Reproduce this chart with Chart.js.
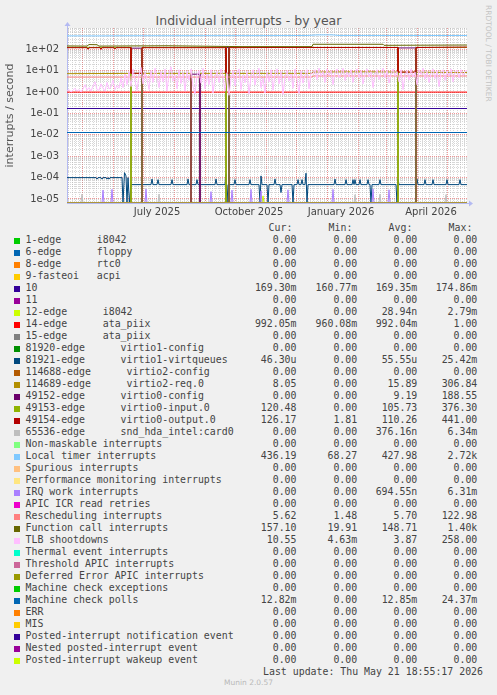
<!DOCTYPE html>
<html lang="en">
<head>
  <meta charset="UTF-8">
  <title>Individual interrupts - by year</title>
  <style>
    body { margin: 0; background: #f0f0f0; }
    #wrap { position: relative; width: 497px; height: 695px; overflow: hidden; font-family: 'DejaVu Sans', sans-serif; }
    #chart { position: absolute; left: 0; top: 0; }
    .title { position: absolute; left: 0; top: 13px; width: 497px; text-align: center; font-size: 12.5px; line-height: 15px; color: #555; }
    .brand { position: absolute; left: 484px; top: 5px; writing-mode: vertical-rl; font-size: 7.5px; line-height: 8px; color: #c4c4c4; white-space: nowrap; }
    .mono { position: absolute; font-family: 'DejaVu Sans Mono', monospace; font-size: 9.9px; line-height: 12px; color: #444; white-space: pre; }
    .num { width: 90px; text-align: right; }
    .swatch { position: absolute; left: 14px; width: 6px; height: 6px; }
    .munin { position: absolute; left: 0; top: 678px; width: 497px; text-align: center; font-size: 7.5px; line-height: 9px; color: #b8b8b8; }
  </style>
  <script src="https://cdn.jsdelivr.net/npm/chart.js"></script>
</head>
<body>
<div id="wrap">
  <div class="title">Individual interrupts - by year</div>
  <div class="brand">RRDTOOL / TOBI OETIKER</div>
  <canvas id="chart" width="497" height="222"></canvas>
  <div id="legend"></div>
  <div class="munin">Munin 2.0.57</div>
</div>
<script>
// x values are days since 2025-04-16 (left edge of the year graph)
const startDate = '2025-04-16';
const monthStartDates = ['2025-05-01', '2025-06-01', '2025-07-01', '2025-08-01', '2025-09-01', '2025-10-01',
  '2025-11-01', '2025-12-01', '2026-01-01', '2026-02-01', '2026-03-01', '2026-04-01', '2026-05-01'];
const tickLabels = ['July 2025', 'October 2025', 'January 2026', 'April 2026'];
const tickLabelDates = ['2025-07-15', '2025-10-15', '2026-01-15', '2026-04-15'];

// series, [day, interrupts per second]
const zeroLine = [[0, 0], [400, 0]];
const irq10 = [[0, 0.169], [400, 0.169]];
const ataPiix14 = [[0, 0.992], [400, 0.992]];
const mcePolls = [[0, 0.0128], [400, 0.0128]];
const edge12 = [[0, 0], [195, 0], [196, 1.4e-5], [197, 0], [400, 0]];
const sndHda = [[0, 0], [14, 0], [15, 1.7e-5], [16, 0], [91, 0], [92, 1.7e-5], [93, 0], [287, 0], [288, 1.6e-5], [289, 0],
  [312, 0], [313, 1.7e-5], [314, 0], [378, 0], [379, 1.6e-5], [380, 0], [400, 0]];
const irqWork = [[0, 0], [35, 0], [36, 2.6e-5], [37, 0], [44, 0], [45, 2.8e-5], [46, 0], [78, 0], [79, 2.9e-5], [80, 0],
  [143, 0], [144, 2.2e-5], [145, 0], [164, 0], [165, 2.6e-5], [166, 0], [183, 0], [184, 2.8e-5], [185, 0],
  [193, 0], [194, 2.4e-5], [195, 0], [220, 0], [221, 2.7e-5], [222, 0], [265, 0], [266, 2.8e-5], [267, 0],
  [305, 0], [306, 2.9e-5], [307, 0], [321, 0], [322, 2.7e-5], [323, 0], [400, 0]];
const virtio1Queues = [[0, 1e-4], [29, 1e-4], [30, 8.5e-5], [31, 1e-4], [34, 1e-4], [35, 8.5e-5], [36, 1e-4],
  [39, 1e-4], [40, 8.5e-5], [41, 1e-4], [42, 8.5e-5], [43, 1e-4], [55, 1e-4], [56, 0], [57.5, 1.7e-4],
  [59, 1.2e-4], [60, 0], [61, 1e-4], [62.5, 0], [64, 4.7e-5],
  [84, 4.7e-5], [85, 8.5e-5], [86, 4.7e-5], [90, 4.7e-5], [91, 8e-5], [92, 4.7e-5], [104, 4.7e-5], [105, 8e-5],
  [106, 4.7e-5], [120, 4.7e-5], [121, 8.5e-5], [122, 4.7e-5], [129, 4.7e-5], [130, 8e-5], [131, 4.7e-5],
  [148, 4.7e-5], [149, 8.5e-5], [150, 4.7e-5], [158, 4.7e-5], [159, 1.5e-4], [160, 0], [161, 4.7e-5],
  [167, 4.7e-5], [168, 8e-5], [169, 4.7e-5], [182, 4.7e-5], [183, 8e-5], [184, 4.7e-5], [192, 4.7e-5],
  [193, 0], [194, 1.2e-4], [195, 4.7e-5], [200, 4.7e-5], [201, 0], [202, 4.7e-5], [207, 4.7e-5], [208, 8.5e-5],
  [209, 4.7e-5], [213, 4.7e-5], [214, 2e-5], [215, 4.7e-5], [225, 4.7e-5], [226, 0], [227, 4.7e-5],
  [230, 4.7e-5], [231, 8e-5], [232, 4.7e-5], [234, 4.7e-5], [235, 8e-5], [236, 4.7e-5], [238, 4.7e-5],
  [239, 1.6e-4], [240, 0], [241, 4.7e-5], [267, 4.7e-5], [268, 8.5e-5], [269, 4.7e-5], [278, 4.7e-5],
  [279, 8e-5], [280, 4.7e-5], [285, 4.7e-5], [286, 8e-5], [287, 4.7e-5], [288, 8e-5], [289, 4.7e-5],
  [292, 4.7e-5], [293, 8e-5], [294, 4.7e-5], [300, 4.7e-5], [301, 8e-5], [302, 4.7e-5], [303, 4.7e-5],
  [304, 0], [305, 4.7e-5], [312, 4.7e-5], [313, 8e-5], [314, 4.7e-5], [329, 4.7e-5], [330, 0], [331, 8.5e-5],
  [332, 4.7e-5], [349, 4.7e-5], [350, 8.5e-5], [351, 4.7e-5], [357, 4.7e-5], [358, 8e-5], [359, 4.7e-5],
  [365, 4.7e-5], [366, 8e-5], [367, 4.7e-5], [379, 4.7e-5], [380, 8e-5], [381, 4.7e-5], [392, 4.7e-5],
  [393, 8e-5], [394, 4.7e-5], [400, 4.7e-5]];
const virtio2Req = [[0, 7.2], [60, 7.4], [124, 7.4], [124, 0], [133, 0], [133, 7.4], [245, 7.4], [246, 8.6],
  [300, 8.8], [400, 8.1]];
const virtio0Config = [[0, 0], [64, 0], [64, 112], [75, 112], [75, 0], [124, 0], [124, 6.8], [133, 6.8], [133, 0],
  [159, 0], [159, 120], [162, 120], [162, 0], [331, 0], [331, 115], [349, 115], [349, 0], [400, 0]];
const virtio0Input = [[0, 122], [64, 122], [64, 0], [75, 0], [75, 122], [159, 122], [159, 0], [162, 0],
  [162, 122], [331, 122], [331, 0], [349, 0], [349, 122], [400, 122]];
const virtio0Output = [[0, 118], [20, 118], [21, 100], [22, 118], [33, 118], [34, 98], [35, 118], [47, 118],
  [48, 102], [49, 118], [64, 118], [64, 7.5], [75, 7.5], [75, 118], [159, 118], [159, 7.5], [162, 7.5],
  [162, 118], [200, 120], [331, 120], [331, 8.5], [349, 8.5], [349, 120], [400, 126]];
const localTimer = [[0, 420], [30, 418], [60, 425], [120, 428], [160, 430], [200, 432], [240, 438],
  [250, 465], [265, 468], [272, 440], [330, 438], [400, 436]];
const rescheduling = [[0, 5.0], [245, 5.0], [246, 5.6], [400, 5.6]];
const functionCall = [[0, 142], [20, 140], [22, 165], [30, 162], [32, 140], [100, 145], [140, 138],
  [175, 132], [245, 132], [246, 170], [316, 170], [317, 152], [400, 157]];
const tlbStepDays = 2;
const tlbShootdowns = [
  1.1, 1.3, 1.0, 1.2, 1.5, 1.1, 1.3, 1.0, 1.4, 2.2, 1.2, 1.6, 1.1, 1.9, 3.0, 1.3, 1.2, 2.4, 1.5, 1.1,
  2.8, 1.4, 1.7, 3.6, 1.3, 2.0, 1.5,
  4.5, 1.6, 7, 2.2, 9, 1.8, 12, 3.5, 1.2, 6, 14, 2.4, 8, 4, 1.3, 10, 2.8, 13, 5, 1.6,
  9, 3, 12, 1.1, 7, 15, 3.2, 6, 1.4, 11, 2.5, 8,
  1.1, 9, 3.5, 12, 1.8, 0.8, 6, 10, 2.6, 13, 1.4, 7, 2.2, 11, 0.9, 5, 9, 2.8, 12, 5,
  1.1, 8, 0.7, 4, 10, 1.9, 8, 12, 1.3, 6, 2.7, 9, 0.8, 5.5, 11, 2.1, 7.5, 13, 1.6, 4.5,
  0.9, 8.5, 3, 11, 1.2, 6.5, 12, 2.4, 9, 0.75, 5, 10, 3.3, 7, 1.5, 12, 4, 0.85, 9.5, 2.6,
  6, 11, 1.4, 8,
  7, 11, 3.8, 13, 5.5, 9, 2.8, 12, 6, 10, 2.2, 8, 12, 4.5, 7, 13, 3.5, 9, 5, 11,
  2.8, 8, 12, 4.6, 10, 2.4, 7, 12, 5, 9, 1.6, 6.5, 11, 3.8, 8, 13, 4.5, 10, 2.6, 7,
  12, 5.5, 9, 3, 11, 1.3, 6, 10, 3.6, 12, 5, 8.5, 2.2, 11, 6.5, 13, 4, 9, 2.8, 7.5,
  12, 4.2, 10, 1.8, 8, 11, 3.5, 9.5, 5.5, 12, 3, 8, 10.5, 4.5, 11, 6, 9, 10.5];

// legend, in munin order (later ones are drawn on top)
const seriesNames = ['1-edge      i8042', '6-edge      floppy', '8-edge      rtc0', '9-fasteoi   acpi', '10', '11',
  '12-edge      i8042', '14-edge      ata_piix', '15-edge      ata_piix', '81920-edge      virtio1-config',
  '81921-edge      virtio1-virtqueues', '114688-edge      virtio2-config', '114689-edge      virtio2-req.0',
  '49152-edge      virtio0-config', '49153-edge      virtio0-input.0', '49154-edge      virtio0-output.0',
  '65536-edge      snd_hda_intel:card0', 'Non-maskable interrupts', 'Local timer interrupts', 'Spurious interrupts',
  'Performance monitoring interrupts', 'IRQ work interrupts', 'APIC ICR read retries', 'Rescheduling interrupts',
  'Function call interrupts', 'TLB shootdowns', 'Thermal event interrupts', 'Threshold APIC interrupts',
  'Deferred Error APIC interrupts', 'Machine check exceptions', 'Machine check polls', 'ERR', 'MIS',
  'Posted-interrupt notification event', 'Nested posted-interrupt event', 'Posted-interrupt wakeup event'];
const seriesColors = ['#00cc00', '#0066b3', '#ff8000', '#ffcc00', '#330099', '#990099', '#ccff00', '#ff0000',
  '#808080', '#008f00', '#00487d', '#b35a00', '#b38f00', '#6b006b', '#8fb300', '#b30000', '#bebebe', '#80ff80',
  '#80c9ff', '#ffc080', '#ffe680', '#aa80ff', '#ee00cc', '#ff8080', '#666600', '#ffbfff', '#00ffcc', '#cc6699',
  '#999900', '#00cc00', '#0066b3', '#ff8000', '#ffcc00', '#330099', '#990099', '#ccff00'];
const tlbPoints = tlbShootdowns.map((v, i) => [i * tlbStepDays, v]);
const seriesData = [zeroLine, zeroLine, zeroLine, zeroLine, irq10, zeroLine, edge12, ataPiix14, zeroLine, zeroLine,
  virtio1Queues, zeroLine, virtio2Req, virtio0Config, virtio0Input, virtio0Output, sndHda, zeroLine, localTimer,
  zeroLine, zeroLine, irqWork, zeroLine, rescheduling, functionCall, tlbPoints, zeroLine, zeroLine, zeroLine,
  zeroLine, mcePolls, zeroLine, zeroLine, zeroLine, zeroLine, zeroLine];
const curVals = ['0.00', '0.00', '0.00', '0.00', '169.30m', '0.00', '0.00', '992.05m', '0.00', '0.00', '46.30u', '0.00',
  '8.05', '0.00', '120.48', '126.17', '0.00', '0.00', '436.19', '0.00', '0.00', '0.00', '0.00', '5.62', '157.10',
  '10.55', '0.00', '0.00', '0.00', '0.00', '12.82m', '0.00', '0.00', '0.00', '0.00', '0.00'];
const minVals = ['0.00', '0.00', '0.00', '0.00', '160.77m', '0.00', '0.00', '960.08m', '0.00', '0.00', '0.00', '0.00',
  '0.00', '0.00', '0.00', '1.81', '0.00', '0.00', '68.27', '0.00', '0.00', '0.00', '0.00', '1.48', '19.91',
  '4.63m', '0.00', '0.00', '0.00', '0.00', '0.00', '0.00', '0.00', '0.00', '0.00', '0.00'];
const avgVals = ['0.00', '0.00', '0.00', '0.00', '169.35m', '0.00', '28.94n', '992.04m', '0.00', '0.00', '55.55u', '0.00',
  '15.89', '9.19', '105.73', '110.26', '376.16n', '0.00', '427.98', '0.00', '0.00', '694.55n', '0.00', '5.70',
  '148.71', '3.87', '0.00', '0.00', '0.00', '0.00', '12.85m', '0.00', '0.00', '0.00', '0.00', '0.00'];
const maxVals = ['0.00', '0.00', '0.00', '0.00', '174.86m', '0.00', '2.79m', '1.00', '0.00', '0.00', '25.42m', '0.00',
  '306.84', '188.55', '376.30', '441.00', '6.34m', '0.00', '2.72k', '0.00', '0.00', '6.31m', '0.00', '122.98',
  '1.40k', '258.00', '0.00', '0.00', '0.00', '0.00', '24.37m', '0.00', '0.00', '0.00', '0.00', '0.00'];
const lastUpdate = 'Last update: Thu May 21 18:55:17 2026';

const toDay = s => (Date.parse(s) - Date.parse(startDate)) / 864e5;

// x ticks: minor grid, month grid, and the labels in mid month
const xTicks = [];
for (let d = 1.5; d < 400; d += 3.5) xTicks.push({ value: d, kind: 'minor' });
monthStartDates.forEach(s => xTicks.push({ value: toDay(s), kind: 'month' }));
tickLabelDates.forEach((s, i) => xTicks.push({ value: toDay(s), kind: 'label', label: tickLabels[i] }));

const yMin = 6.5e-6, yMax = 980;
const yTicks = [];
for (let k = -6; k <= 2; k++) {
  for (let m = 1; m <= 9; m++) {
    const v = Number((m * Math.pow(10, k)).toPrecision(3));
    if (v >= yMin && v <= yMax) yTicks.push({ value: v, major: m === 1, exp: k });
  }
}
const expLabel = k => '1e' + (k < 0 ? '-' : '+') + String(Math.abs(k)).padStart(2, '0');

// like rrdtool, a zero rate sits on the floor of the log axis
const onLogAxis = pts => pts.map(([x, y]) => ({ x, y: y > 0 ? y : yMin }));

const minorGrid = 'rgba(160,160,160,0.42)';
const majorGrid = 'rgba(235,110,110,0.7)';

const plotBackground = {
  id: 'plotBackground',
  beforeDraw(chart) {
    const { ctx, chartArea: a } = chart;
    ctx.save();
    ctx.fillStyle = '#ffffff';
    ctx.fillRect(a.left, a.top, a.right - a.left, a.bottom - a.top);
    ctx.restore();
  }
};

const axisArrows = {
  id: 'axisArrows',
  afterDraw(chart) {
    const { ctx, chartArea: a } = chart;
    const x = a.left + 0.5, y = a.bottom + 0.5;
    ctx.save();
    ctx.strokeStyle = ctx.fillStyle = '#b4baf2';
    ctx.lineWidth = 1;
    ctx.beginPath();
    ctx.moveTo(x, a.top); ctx.lineTo(x, a.top - 2);
    ctx.moveTo(a.right, y); ctx.lineTo(a.right + 2, y);
    ctx.stroke();
    ctx.beginPath();
    ctx.moveTo(x - 3, a.top - 2); ctx.lineTo(x + 3, a.top - 2); ctx.lineTo(x, a.top - 6); ctx.closePath();
    ctx.moveTo(a.right + 2, y - 3); ctx.lineTo(a.right + 2, y + 3); ctx.lineTo(a.right + 6, y); ctx.closePath();
    ctx.fill();
    ctx.restore();
  }
};

const tickFont = { family: 'DejaVu Sans', size: 10 };

new Chart(document.getElementById('chart'), {
  type: 'line',
  data: {
    datasets: seriesNames.map((name, i) => ({
      label: name.replace(/\s+/g, ' '),
      data: onLogAxis(seriesData[i]),
      borderColor: seriesColors[i],
      backgroundColor: seriesColors[i],
      borderWidth: 1,
      borderJoinStyle: 'round',
      pointRadius: 0,
      tension: 0,
      fill: false,
      order: seriesNames.length - i
    }))
  },
  options: {
    responsive: false,
    devicePixelRatio: 1,
    animation: false,
    events: [],
    layout: { padding: { top: 28, right: 30, bottom: 0, left: 0 } },
    plugins: { legend: { display: false }, tooltip: { enabled: false } },
    scales: {
      x: {
        type: 'linear',
        min: 0,
        max: 400,
        bounds: 'data',
        afterBuildTicks: scale => { scale.ticks = xTicks.map(t => ({ ...t })); },
        afterFit: scale => { scale.height = 19; },
        grid: {
          drawTicks: false,
          color: ctx => ctx.tick.kind === 'month' ? majorGrid
            : ctx.tick.kind === 'minor' ? minorGrid : 'rgba(0,0,0,0)'
        },
        border: { display: true, color: '#b4baf2', dash: [1, 1] },
        ticks: {
          autoSkip: false,
          maxRotation: 0,
          padding: 3,
          color: '#444',
          font: tickFont,
          callback: (v, i, ticks) => ticks[i].label || ''
        }
      },
      y: {
        type: 'logarithmic',
        min: yMin,
        max: yMax,
        bounds: 'data',
        afterBuildTicks: scale => { scale.ticks = yTicks.map(t => ({ ...t })); },
        afterFit: scale => { scale.width = 67; },
        grid: {
          drawTicks: false,
          color: ctx => ctx.tick.major ? majorGrid : minorGrid
        },
        border: { display: true, color: '#b4baf2', dash: [1, 1] },
        ticks: {
          autoSkip: false,
          padding: 8,
          color: '#444',
          font: tickFont,
          callback: (v, i, ticks) => ticks[i].major ? expLabel(ticks[i].exp) : ''
        },
        title: {
          display: true,
          text: 'interrupts / second',
          color: '#555',
          font: { family: 'DejaVu Sans', size: 11 },
          padding: { top: 4, bottom: 0 }
        }
      }
    }
  },
  plugins: [plotBackground, axisArrows]
});

// text legend under the graph
const legend = document.getElementById('legend');
function addText(cls, text, left, top) {
  const el = document.createElement('div');
  el.className = cls;
  el.textContent = text;
  el.style.left = left + 'px';
  el.style.top = top + 'px';
  legend.appendChild(el);
  return el;
}
const rowTop = 234, rowStep = 12;
const colRight = [296.5, 357.2, 417.3, 477.3];
const headRight = [292.4, 352.4, 412.4, 472.4];
['Cur:', 'Min:', 'Avg:', 'Max:'].forEach((h, c) => addText('mono num', h, headRight[c] - 90, rowTop - rowStep));
seriesNames.forEach((name, i) => {
  const top = rowTop + i * rowStep;
  const sw = document.createElement('div');
  sw.className = 'swatch';
  sw.style.top = (top + 3.5) + 'px';
  sw.style.background = seriesColors[i];
  legend.appendChild(sw);
  addText('mono', name, 25.5, top);
  [curVals, minVals, avgVals, maxVals].forEach((col, c) => addText('mono num', col[i], colRight[c] - 90, top));
});
addText('mono num', lastUpdate, 0, rowTop + seriesNames.length * rowStep).style.width = '483px';
</script>
</body>
</html>
